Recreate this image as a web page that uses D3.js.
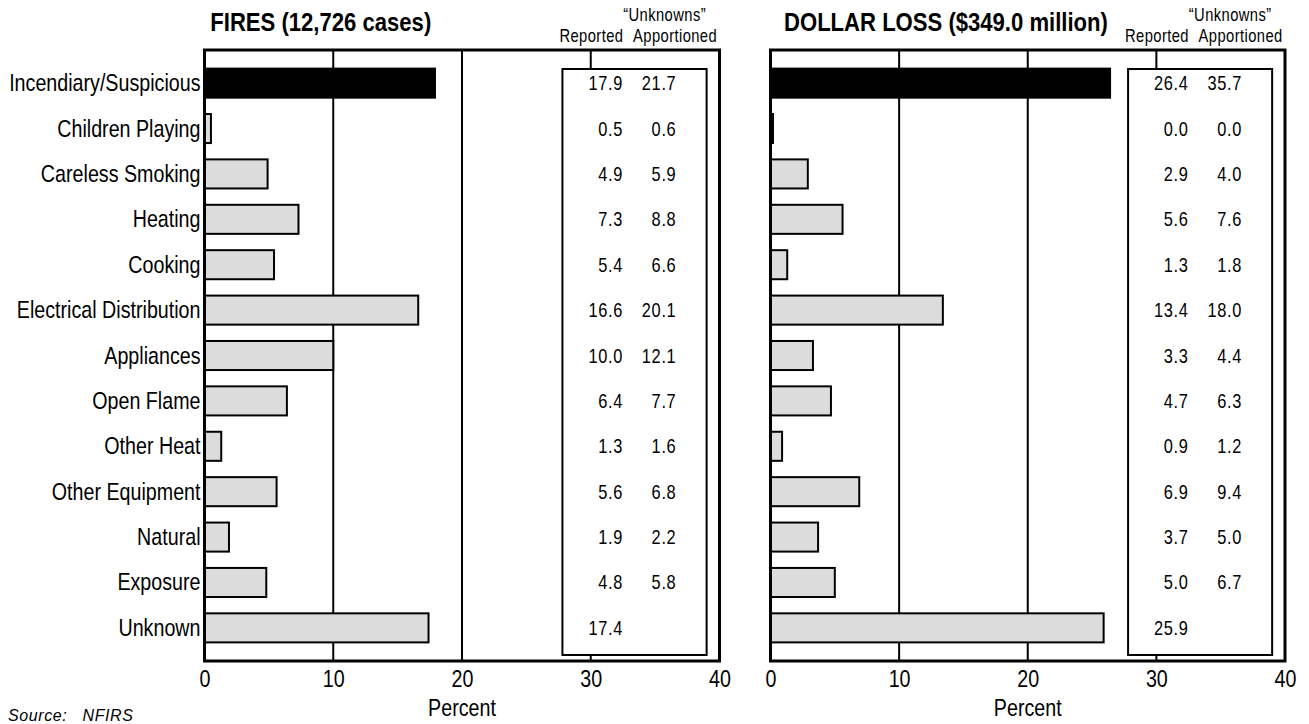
<!DOCTYPE html>
<html><head><meta charset="utf-8">
<script src="https://cdn.jsdelivr.net/npm/d3@7"></script>
<style>
body{margin:0;background:#fff;}
text{font-family:"Liberation Sans",Arial,Helvetica,sans-serif;fill:#000;}
</style></head>
<body><svg id="c" width="1309" height="724"></svg>
<script>
const categories = ["Incendiary/Suspicious","Children Playing","Careless Smoking","Heating","Cooking","Electrical Distribution","Appliances","Open Flame","Other Heat","Other Equipment","Natural","Exposure","Unknown"];
const firesReported = [17.9,0.5,4.9,7.3,5.4,16.6,10.0,6.4,1.3,5.6,1.9,4.8,17.4];
const firesApportioned = [21.7,0.6,5.9,8.8,6.6,20.1,12.1,7.7,1.6,6.8,2.2,5.8,null];
const lossReported = [26.4,0.0,2.9,5.6,1.3,13.4,3.3,4.7,0.9,6.9,3.7,5.0,25.9];
const lossApportioned = [35.7,0.0,4.0,7.6,1.8,18.0,4.4,6.3,1.2,9.4,5.0,6.7,null];
const xTicks = [0,10,20,30,40];
const titles = ["FIRES (12,726 cases)","DOLLAR LOSS ($349.0 million)"];
const colHeaders = ["Reported","\u201cUnknowns\u201d","Apportioned"];
const axisTitle = "Percent";
const sourceText = "Source:   NFIRS";

const svg = d3.select("#c");
const plotTop = 50, plotBottom = 661;
const y = d3.scaleBand().domain(categories).range([plotTop, plotBottom]).paddingInner(0.36).paddingOuter(0.41);
const NARROW = 0.82;

// narrow text helper: horizontally condensed Liberation Sans (Arial Narrow look)
function ntext(sel, x, yy, size, anchor, str, sx) {
  return sel.append("text")
    .attr("transform", `translate(${x},${yy}) scale(${sx||NARROW},1)`)
    .attr("text-anchor", anchor).attr("font-size", size).text(str);
}

const panels = [
  {x0:204.5, x1:719.5, rep:firesReported, app:firesApportioned, title:titles[0], titleX:0.45, labels:true},
  {x0:770.5, x1:1285, rep:lossReported, app:lossApportioned, title:titles[1], titleX:1.05, labels:false}
];

panels.forEach(p => {
  const x = d3.scaleLinear().domain([0,40]).range([p.x0, p.x1]);
  const g = svg.append("g");
  g.selectAll("line.grid").data(xTicks.slice(1,4)).enter().append("line")
    .attr("x1", d=>x(d)).attr("x2", d=>x(d)).attr("y1", plotTop).attr("y2", plotBottom)
    .attr("stroke","#000").attr("stroke-width",2);
  g.selectAll("rect.bar").data(p.rep).enter().append("rect")
    .attr("x", x(0)).attr("y", (d,i)=>y(categories[i]))
    .attr("width", d=>Math.max(x(d)-x(0), 2.5)).attr("height", y.bandwidth())
    .attr("fill", (d,i)=> (i===0 || d===0) ? "#000" : "#dcdcdc")
    .attr("stroke","#000").attr("stroke-width",2);
  const bx0 = x(27.8), bx1 = x(39.0);
  g.append("rect").attr("x", bx0).attr("y", 69).attr("width", bx1-bx0).attr("height", 655-69)
    .attr("fill","#fff").attr("stroke","#000").attr("stroke-width",2);
  p.rep.forEach((d,i) => {
    const cy = y(categories[i]) + y.bandwidth()/2 + 7;
    ntext(g, x(32.5), cy, 20, "end", d.toFixed(1)).attr("letter-spacing",0.8);
    if (p.app[i] != null) ntext(g, x(36.65), cy, 20, "end", p.app[i].toFixed(1)).attr("letter-spacing",0.8);
  });
  g.append("path").attr("d", `M${x(0)},${plotBottom}V${plotTop}H${x(40)}V${plotBottom}Z`)
    .attr("fill","none").attr("stroke","#000").attr("stroke-width",3);
  const ax = g.append("g").attr("transform",`translate(0,${plotBottom})`)
    .call(d3.axisBottom(x).tickValues(xTicks).tickSize(0).tickPadding(0).tickFormat(d3.format("d")));
  ax.select(".domain").remove();
  ax.selectAll("text").attr("font-size",24).attr("font-family",null)
    .attr("y",0).attr("dy",null).attr("transform","translate(0,26) scale(0.82,1)");
  ntext(g, x(20), 716, 24, "middle", axisTitle);
  ntext(g, x(p.titleX), 31, 26, "start", p.title, 0.85).attr("font-weight","bold");
  ntext(g, x(30.05), 42, 18, "middle", colHeaders[0]).attr("letter-spacing",0.5);
  ntext(g, x(38.95), 21, 18, "end", colHeaders[1]).attr("letter-spacing",0.5);
  ntext(g, x(36.55), 42, 18, "middle", colHeaders[2]).attr("letter-spacing",0.5);
  if (p.labels) {
    categories.forEach(c => {
      ntext(g, x(0)-4, y(c)+y.bandwidth()/2+8, 24, "end", c);
    });
  }
});

ntext(svg, 8, 721, 16, "start", sourceText, 1.0).attr("font-style","italic").attr("letter-spacing",0.6).style("white-space","pre");
</script></body></html>
